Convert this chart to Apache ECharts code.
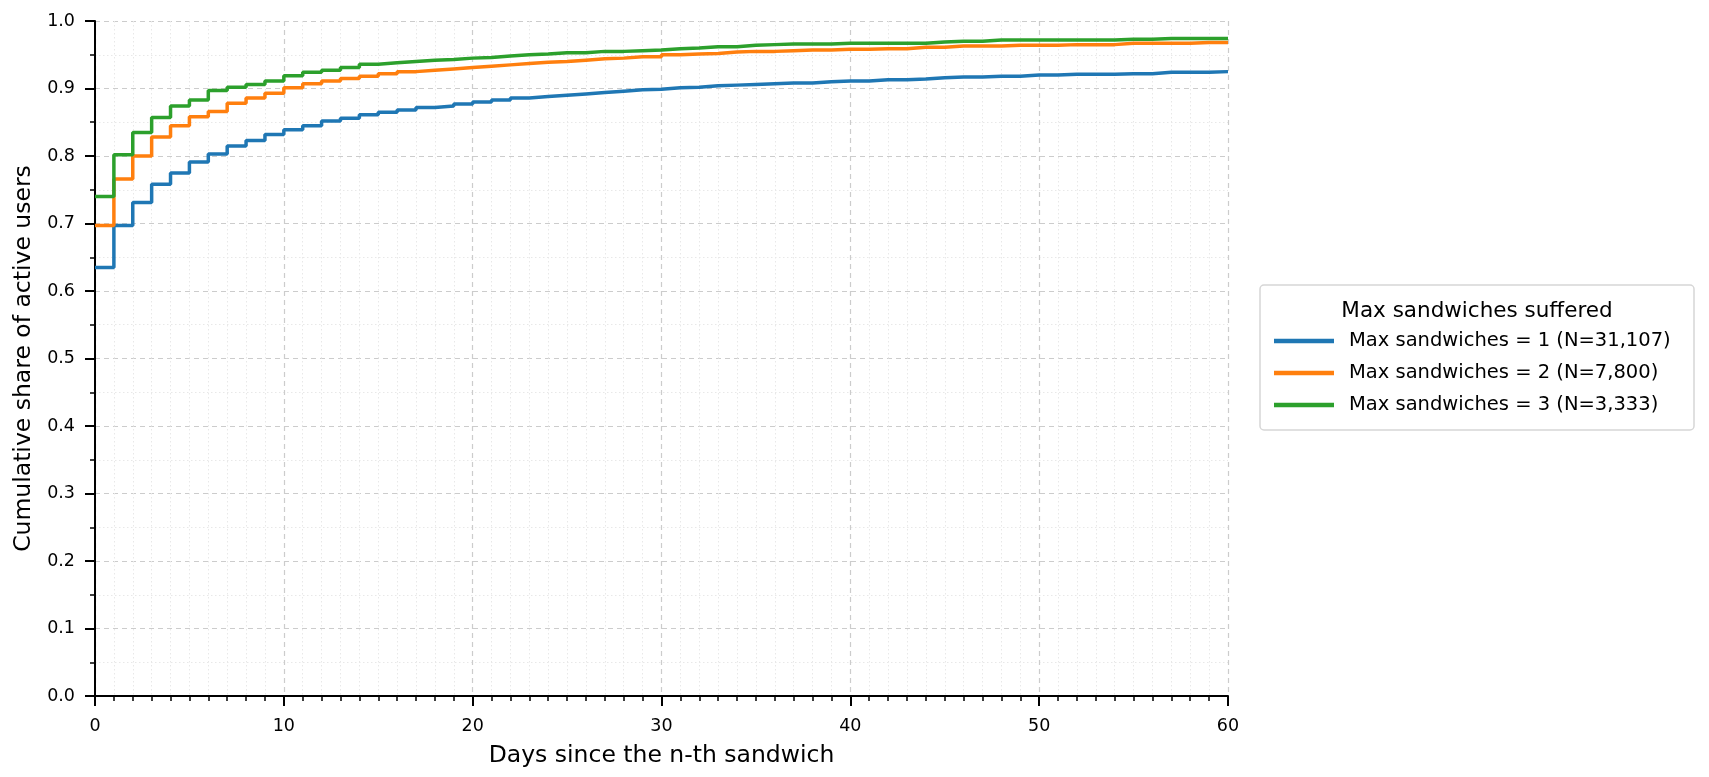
<!DOCTYPE html>
<html>
<head>
<meta charset="utf-8">
<script src="https://cdn.jsdelivr.net/npm/echarts@6/dist/echarts.min.js"></script>
<style>
html,body{margin:0;padding:0;background:#fff;}
#chart{width:1709px;height:777px;}
</style>
</head>
<body>
<div id="chart"></div>
<script>
// Days since the n-th sandwich (value holds from day k to day k+1)
const days = [0,1,2,3,4,5,6,7,8,9,10,11,12,13,14,15,16,17,18,19,20,21,22,23,24,25,26,27,28,29,30,31,32,33,34,35,36,37,38,39,40,41,42,43,44,45,46,47,48,49,50,51,52,53,54,55,56,57,58,59,60];

const max1 = [0.635,0.697,0.731,0.758,0.775,0.791,0.803,0.815,0.823,0.832,
  0.839,0.845,0.852,0.856,0.861,0.865,0.868,0.872,0.874,0.877,
  0.880,0.883,0.886,0.888,0.890,0.892,0.894,0.896,0.898,0.899,
  0.901,0.902,0.904,0.905,0.906,0.907,0.908,0.908,0.910,0.911,
  0.911,0.913,0.913,0.914,0.916,0.917,0.917,0.918,0.918,0.920,
  0.920,0.921,0.921,0.921,0.922,0.922,0.924,0.924,0.924,0.925,0.925];

const max2 = [0.697,0.766,0.800,0.828,0.845,0.858,0.866,0.878,0.886,0.893,
  0.901,0.907,0.911,0.915,0.918,0.922,0.925,0.927,0.929,0.931,
  0.933,0.935,0.937,0.939,0.940,0.942,0.944,0.945,0.947,0.947,
  0.950,0.951,0.952,0.954,0.955,0.955,0.956,0.957,0.957,0.958,
  0.958,0.959,0.959,0.961,0.961,0.963,0.963,0.963,0.964,0.964,
  0.964,0.965,0.965,0.965,0.967,0.967,0.967,0.967,0.968,0.968,0.968];

const max3 = [0.740,0.802,0.835,0.857,0.874,0.883,0.897,0.902,0.906,0.911,
  0.919,0.924,0.927,0.931,0.936,0.938,0.940,0.942,0.943,0.945,
  0.946,0.948,0.950,0.951,0.953,0.953,0.955,0.955,0.956,0.957,
  0.959,0.960,0.962,0.962,0.964,0.965,0.966,0.966,0.966,0.967,
  0.967,0.967,0.967,0.967,0.969,0.970,0.970,0.972,0.972,0.972,
  0.972,0.972,0.972,0.972,0.973,0.973,0.974,0.974,0.974,0.974,0.974];

const seriesNames = ['Max sandwiches = 1 (N=31,107)','Max sandwiches = 2 (N=7,800)','Max sandwiches = 3 (N=3,333)'];
const seriesColors = ['#1f77b4','#ff7f0e','#2ca02c'];
const legendTitle = 'Max sandwiches suffered';
const xName = 'Days since the n-th sandwich';
const yName = 'Cumulative share of active users';

const FONT = 'DejaVu Sans';
const chart = echarts.init(document.getElementById('chart'), null, {renderer:'canvas'});

function pairs(vals){ return days.map((d,i)=>[d, vals[i]]); }
const allVals = [max1, max2, max3];

const option = {
  backgroundColor:'#fff',
  animation:false,
  grid:{left:95, right:481, top:21, bottom:81, containLabel:false},
  xAxis:{
    type:'value', min:0, max:60, interval:10,
    name:xName, nameLocation:'middle', nameGap:48,
    nameTextStyle:{fontFamily:FONT, fontSize:23.5, color:'#000'},
    axisLine:{show:true, lineStyle:{color:'#000', width:2}},
    axisTick:{show:true, length:10, lineStyle:{color:'#000', width:2}},
    minorTick:{show:true, splitNumber:10, length:5, lineStyle:{color:'#000', width:1.5}},
    axisLabel:{fontFamily:FONT, fontSize:17.5, color:'#000', margin:21},
    splitLine:{show:true, lineStyle:{color:'#cccccc', width:1.2, type:[5,4]}},
    minorSplitLine:{show:true, lineStyle:{color:'#e8e8e8', width:1, type:[1.5,2.5]}}
  },
  yAxis:{
    type:'value', min:0, max:1, interval:0.1,
    name:yName, nameLocation:'middle', nameGap:59,
    nameTextStyle:{fontFamily:FONT, fontSize:23.5, color:'#000'},
    axisLine:{show:true, lineStyle:{color:'#000', width:2}},
    axisTick:{show:true, length:10, lineStyle:{color:'#000', width:2}},
    minorTick:{show:true, splitNumber:2, length:5, lineStyle:{color:'#000', width:1.5}},
    axisLabel:{fontFamily:FONT, fontSize:17.5, color:'#000', margin:20,
      formatter:v=>v.toFixed(1)},
    splitLine:{show:true, lineStyle:{color:'#cccccc', width:1.2, type:[5,4]}},
    minorSplitLine:{show:true, lineStyle:{color:'#e8e8e8', width:1, type:[1.5,2.5]}}
  },
  legend:{
    orient:'vertical', left:1269, top:326, z:10,
    icon:'rect', itemWidth:60, itemHeight:4.5, itemGap:12,
    data:seriesNames,
    textStyle:{fontFamily:FONT, fontSize:19.5, color:'#000', lineHeight:20, padding:[0,0,0,10]}
  },
  graphic:[
    {type:'rect', z:1, shape:{x:1260, y:285, width:434, height:145, r:4},
     style:{fill:'#fff', stroke:'#d6d6d6', lineWidth:1.5}},
    {type:'text', z:2, x:1477, y:311,
     style:{text:legendTitle, fontFamily:FONT, fontSize:21.5, fill:'#000',
       textAlign:'center', textVerticalAlign:'middle'}}
  ],
  series: seriesNames.map((n,i)=>({
    name:n, type:'line', step:'end', data:pairs(allVals[i]),
    showSymbol:false, symbol:'none', clip:true,
    lineStyle:{color:seriesColors[i], width:3.5},
    itemStyle:{color:seriesColors[i]},
    emphasis:{disabled:true}
  }))
};
chart.setOption(option);
</script>
</body>
</html>
